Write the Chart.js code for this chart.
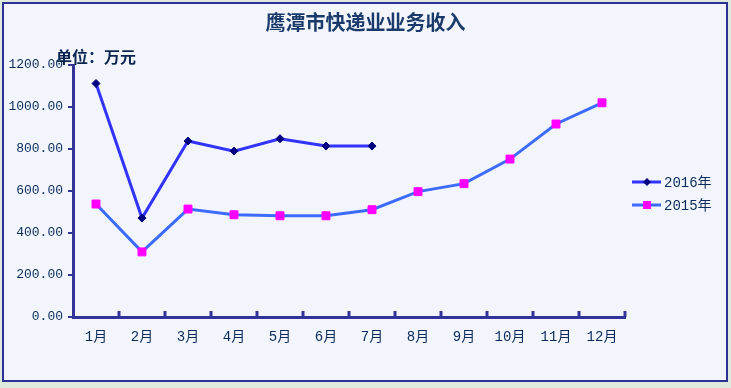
<!DOCTYPE html>
<html><head><meta charset="utf-8">
<script src="https://cdn.jsdelivr.net/npm/chart.js@4"></script>
<style>
html,body{margin:0;padding:0;width:731px;height:388px;overflow:hidden;background:#dfeadf;}
#frame{position:absolute;left:2px;top:2px;width:722px;height:376px;border:2px solid #2e3192;background:#f2f6fc;}
#wrap{position:absolute;left:0;top:0;width:731px;height:388px;}
#title{position:absolute;left:0;width:731px;top:10px;text-align:center;font:bold 20px "Noto Sans CJK SC",sans-serif;color:#1a3a6b;line-height:24px;}
#unit{position:absolute;left:56px;top:46px;font:bold 16px "Noto Sans CJK SC",sans-serif;color:#0a2450;line-height:20px;}
</style></head>
<body>
<div id="frame"></div>
<div id="wrap"><canvas id="c" width="731" height="388"></canvas></div>
<div id="title">鹰潭市快递业业务收入</div>
<div id="unit">单位：万元</div>
<script>
const categories = ["1月","2月","3月","4月","5月","6月","7月","8月","9月","10月","11月","12月"];
const series2016 = [1112, 471, 838, 790, 849, 814, 814, null, null, null, null, null];
const series2015 = [538, 310, 514, 487, 482, 482, 511, 597, 635, 752, 919, 1020];
const seriesNames = ["2016年","2015年"];
const yTicks = [0, 200, 400, 600, 800, 1000, 1200];

const AXIS = '#333399';
const TXT = '#0a2a5c';
const FONT = "'Liberation Mono','Noto Sans CJK SC',monospace";

const axisPlugin = {
  id: 'axisPlugin',
  afterDraw(chart) {
    const ctx = chart.ctx, x = chart.scales.x, ca = chart.chartArea;
    ctx.save();
    ctx.strokeStyle = AXIS; ctx.lineWidth = 3; ctx.lineCap = 'butt';
    const n = categories.length;
    for (let i = 1; i <= n; i++) {
      let px;
      if (i < n) px = (x.getPixelForValue(i - 1) + x.getPixelForValue(i)) / 2;
      else px = ca.right;
      ctx.beginPath(); ctx.moveTo(px, ca.bottom); ctx.lineTo(px, ca.bottom - 6); ctx.stroke();
    }
    // legend
    const items = chart.data.datasets;
    items.forEach((ds, k) => {
      const ly = 182 + k * 23;
      ctx.strokeStyle = ds.borderColor; ctx.lineWidth = 3;
      ctx.beginPath(); ctx.moveTo(632, ly); ctx.lineTo(661, ly); ctx.stroke();
      ctx.fillStyle = ds.pointBackgroundColor;
      ctx.beginPath();
      if (ds.pointStyle === 'rectRot') {
        const r = ds.pointRadius;
        ctx.moveTo(647, ly - r); ctx.lineTo(647 + r, ly); ctx.lineTo(647, ly + r); ctx.lineTo(647 - r, ly); ctx.closePath();
      } else {
        ctx.rect(643, ly - 4, 8, 8);
      }
      ctx.fill();
      ctx.fillStyle = TXT; ctx.font = "14px " + FONT; ctx.textBaseline = 'middle'; ctx.textAlign = 'left';
      ctx.fillText(ds.label, 664, ly + 1);
    });
    ctx.restore();
  }
};

new Chart(document.getElementById('c'), {
  type: 'line',
  data: {
    labels: categories,
    datasets: [
      { label: seriesNames[0], data: series2016, borderColor: '#3333ff', borderWidth: 3,
        pointStyle: 'rectRot', pointRadius: 4, pointBackgroundColor: '#000080', pointBorderColor: '#000080', pointBorderWidth: 1,
        tension: 0, spanGaps: false },
      { label: seriesNames[1], data: series2015, borderColor: '#3d6bff', borderWidth: 3,
        pointStyle: 'rect', pointRadius: 5.6, pointBackgroundColor: '#ff00ff', pointBorderColor: '#ff00ff', pointBorderWidth: 1,
        tension: 0 }
    ]
  },
  options: {
    responsive: false, animation: false, devicePixelRatio: 1,
    layout: { padding: { top: 65, right: 106, left: 0, bottom: 0 } },
    plugins: { legend: { display: false }, title: { display: false }, tooltip: { enabled: false } },
    scales: {
      x: {
        offset: true,
        afterFit(s) { s.height = 71; },
        grid: { display: false, drawOnChartArea: false },
        border: { display: true, color: AXIS, width: 3 },
        ticks: { color: TXT, font: { family: FONT, size: 14 }, padding: 4, maxRotation: 0, autoSkip: false }
      },
      y: {
        min: 0, max: 1200,
        afterFit(s) { s.width = 73; },
        afterBuildTicks(s) { s.ticks = yTicks.map(v => ({ value: v })); },
        grid: { display: true, drawOnChartArea: false, drawTicks: true, tickLength: 5, color: AXIS, lineWidth: 2 },
        border: { display: true, color: AXIS, width: 3 },
        ticks: { color: TXT, font: { family: FONT, size: 13 }, padding: 5, callback: v => Number(v).toFixed(2) }
      }
    }
  },
  plugins: [axisPlugin]
});
</script>
</body></html>
